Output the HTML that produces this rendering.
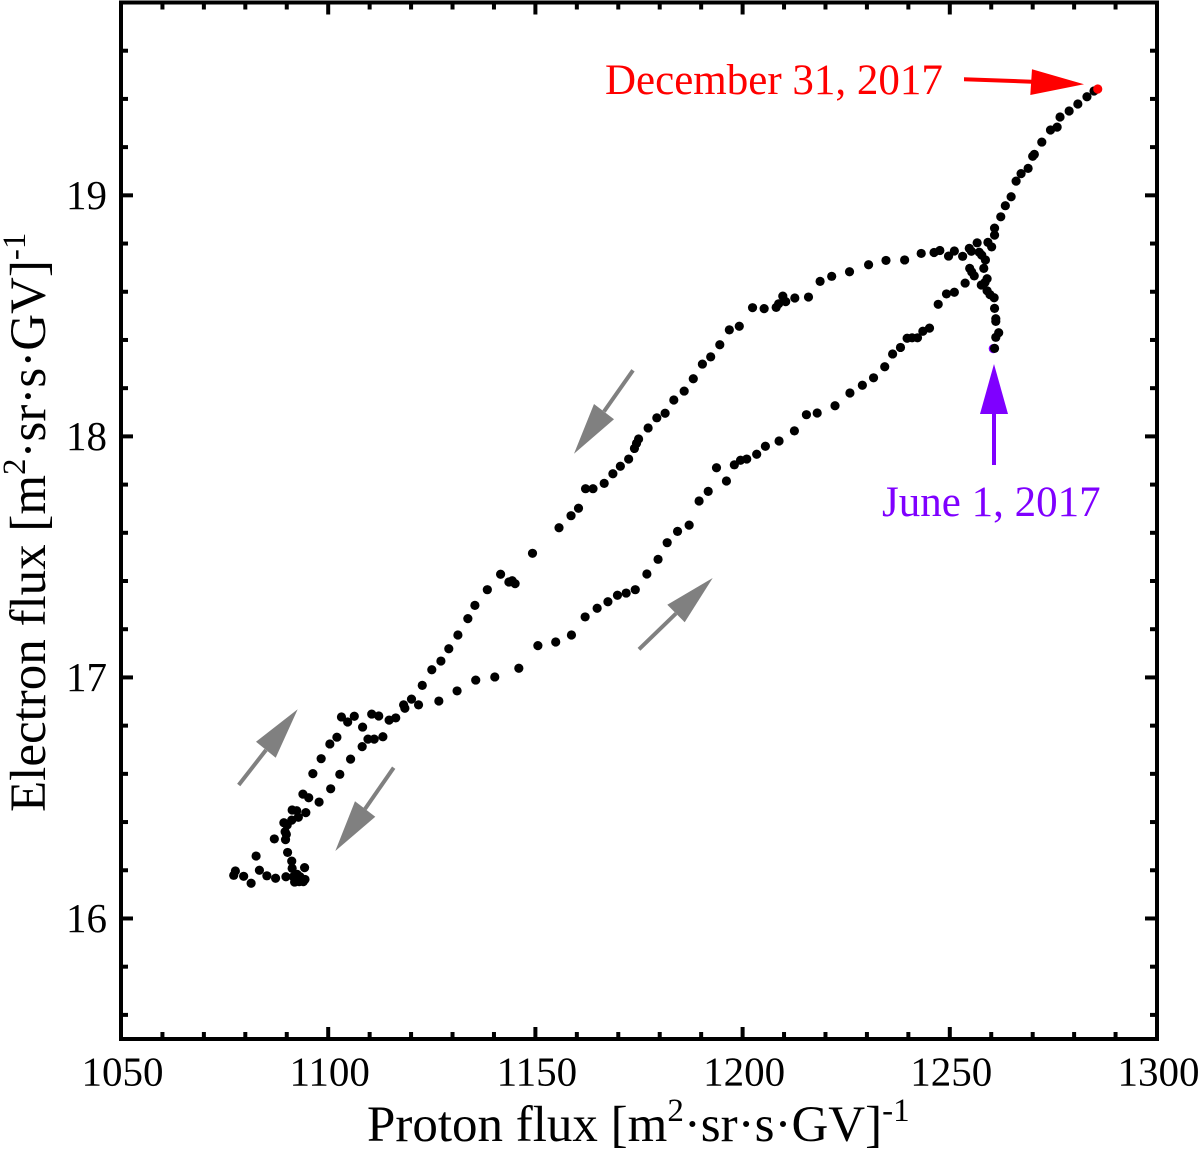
<!DOCTYPE html>
<html lang="en">
<head>
<meta charset="utf-8">
<title>Electron flux vs proton flux</title>
<style>
html,body{margin:0;padding:0;background:#fff;}
svg{display:block;font-family:"Liberation Serif",serif;}
</style>
</head>
<body>
<svg id="chart" xmlns="http://www.w3.org/2000/svg" width="1200" height="1151" viewBox="0 0 1200 1151">
  <rect x="0" y="0" width="1200" height="1151" fill="#fff"/>
  <g id="ticks"></g>
  <g id="tick-labels"></g>
  <g id="points"></g>
  <rect x="121" y="2.5" width="1036" height="1036.5" fill="none" stroke="#000" stroke-width="4"/>

  <text x="367" y="1141" font-size="51" fill="#000">Proton flux [m<tspan dy="-20" font-size="33">2</tspan><tspan dy="20">·sr·s·GV]</tspan><tspan dy="-20" font-size="33">-1</tspan></text>
  <text transform="translate(45,812) rotate(-90)" x="0" y="0" font-size="51" fill="#000">Electron flux [m<tspan dy="-20" font-size="33">2</tspan><tspan dy="20">·sr·s·GV]</tspan><tspan dy="-20" font-size="33">-1</tspan></text>

  <text x="605" y="94" font-size="43" fill="#ff0000">December 31, 2017</text>
  <g fill="#ff0000">
    <polygon points="964,77.3 1032,79.7 1032,83.7 964,81.3"/>
    <polygon points="1032,69.3 1084,84.3 1030.3,95"/>
  </g>
  <text x="882" y="516" font-size="43" fill="#7f00ff">June 1, 2017</text>
  <g fill="#7f00ff">
    <rect x="992" y="410" width="4" height="55"/>
    <polygon points="994,364 1008,414 980,414"/>
  </g>

  <g>
    <line x1="639" y1="649.3" x2="676" y2="613.5" stroke="#808080" stroke-width="4"/>
    <polygon points="712.7,578 667.3,604.7 684.7,622.3" fill="#808080"/>
  </g>
  <g>
    <line x1="633" y1="370.3" x2="604" y2="411.5" stroke="#808080" stroke-width="4"/>
    <polygon points="574,453.7 594,404 614,419.3" fill="#808080"/>
  </g>
  <g>
    <line x1="238.7" y1="785" x2="266" y2="750" stroke="#808080" stroke-width="4"/>
    <polygon points="297.7,709.3 256,741.7 275.7,757.7" fill="#808080"/>
  </g>
  <g>
    <line x1="393.7" y1="767.7" x2="365" y2="809" stroke="#808080" stroke-width="4"/>
    <polygon points="335.3,851 355,801.3 375.3,816.7" fill="#808080"/>
  </g>
</svg>
<script>
const xTickLabels = ["1050", "1100", "1150", "1200", "1250", "1300"];
const yTickLabels = ["16", "17", "18", "19"];
const protonFlux = [
1260.5,1260.8,1261.1,1261.8,1261.1,1261.1,1260.8,1260.7,1259.7,1259.0,
1258.5,1259.0,1257.6,1258.2,1258.6,1257.7,1257.1,1255.2,1254.7,1256.6,
1253.1,1251.1,1249.7,1247.6,1246.2,1243.1,1239.1,1234.6,1230.4,1225.8,
1221.5,1218.7,1215.9,1212.6,1210.4,1209.7,1208.7,1208.1,1205.2,1202.4,
1199.2,1196.8,1194.5,1192.3,1190.3,1188.1,1185.9,1183.4,1181.3,1179.3,
1177.2,1174.9,1174.4,1173.9,1172.5,1170.5,1168.7,1166.6,1163.9,1162.1,
1160.4,1158.6,1155.7,1149.3,1145.1,1144.4,1143.6,1141.6,1138.4,1135.4,
1133.7,1131.3,1129.1,1127.2,1125.0,1122.7,1120.1,1118.5,1118.2,1116.3,
1114.7,1112.2,1110.5,1108.3,1106.3,1104.7,1103.2,1102.1,1100.4,1098.3,
1096.3,1095.3,1093.9,1094.6,1092.8,1092.4,1091.3,1091.2,1090.1,1089.3,
1089.6,1089.9,1089.7,1087.0,1090.2,1091.2,1091.3,1094.3,1094.4,1094.0,
1093.2,1092.5,1093.0,1091.9,1091.6,1089.8,1087.3,1085.2,1083.4,1082.6,
1081.4,1079.6,1077.6,1077.2,
1097.8,1100.6,1102.8,1105.4,1108.2,1109.6,1111.1,1113.2,1121.8,1126.7,
1131.1,1135.6,1140.2,1146.0,1150.6,1154.9,1158.7,1162.0,1164.9,1167.5,
1169.8,1171.9,1174.1,1176.9,1179.6,1181.8,1184.3,1187.1,1189.5,1191.7,
1193.7,1196.1,1198.0,1199.5,1201.0,1203.4,1205.5,1208.8,1212.5,1215.4,
1218.0,1222.3,1225.9,1228.9,1231.6,1234.3,1236.2,1238.1,1239.7,1240.9,
1242.2,1243.5,1245.1,1247.2,1249.2,1251.1,1253.7,1255.9,1255.3,1254.8,
1260.1,1259.2,1260.8,1260.8,1262.3,1263.4,1264.8,1266.0,1267.2,1268.9,
1270.0,1270.4,1272.2,1274.3,1275.9,1276.6,1278.8,1280.9,1283.1,1284.8,1285.7
];
const electronFlux = [
18.364,18.365,18.411,18.430,18.477,18.488,18.531,18.575,18.588,18.604,
18.639,18.654,18.628,18.697,18.732,18.752,18.764,18.768,18.780,18.803,
18.747,18.769,18.748,18.771,18.763,18.759,18.732,18.730,18.712,18.683,
18.664,18.643,18.578,18.574,18.559,18.582,18.550,18.535,18.530,18.534,
18.457,18.442,18.380,18.330,18.300,18.239,18.188,18.151,18.096,18.077,
18.035,17.989,17.971,17.950,17.906,17.876,17.845,17.805,17.783,17.783,
17.702,17.671,17.621,17.515,17.389,17.401,17.396,17.428,17.364,17.299,
17.244,17.176,17.119,17.068,17.032,16.967,16.910,16.872,16.886,16.832,
16.823,16.840,16.848,16.794,16.839,16.815,16.836,16.752,16.724,16.663,
16.601,16.501,16.516,16.439,16.420,16.447,16.450,16.408,16.388,16.397,
16.360,16.349,16.327,16.330,16.274,16.238,16.208,16.211,16.162,16.153,
16.173,16.183,16.153,16.151,16.173,16.173,16.167,16.177,16.200,16.259,
16.146,16.175,16.197,16.179,
16.483,16.538,16.598,16.661,16.713,16.744,16.744,16.754,16.886,16.902,
16.944,16.989,17.002,17.038,17.132,17.147,17.176,17.251,17.287,17.314,
17.341,17.350,17.364,17.429,17.490,17.559,17.606,17.632,17.732,17.772,
17.870,17.815,17.882,17.901,17.906,17.926,17.959,17.981,18.023,18.090,
18.097,18.127,18.180,18.212,18.243,18.289,18.342,18.369,18.407,18.409,
18.409,18.436,18.449,18.548,18.591,18.598,18.636,18.666,18.682,18.697,
18.786,18.805,18.835,18.864,18.911,18.957,18.994,19.059,19.090,19.112,
19.162,19.170,19.221,19.271,19.283,19.325,19.350,19.379,19.409,19.433,19.441
];
const xMinorTicks = [1060,1070,1080,1090,1110,1120,1130,1140,1160,1170,1180,1190,1210,1220,1230,1240,1260,1270,1280,1290];
const yMinorTicks = [15.6,15.8,16.2,16.4,16.6,16.8,17.2,17.4,17.6,17.8,18.2,18.4,18.6,18.8,19.2,19.4,19.6];

const SVG_NS = "http://www.w3.org/2000/svg";
const plot = {left: 121, right: 1157, top: 2.5, bottom: 1039};
const xDomain = [1050, 1300];
const yDomain = [15.5, 19.8];
function xScale(v) { return plot.left + (v - xDomain[0]) / (xDomain[1] - xDomain[0]) * (plot.right - plot.left); }
function yScale(v) { return plot.bottom - (v - yDomain[0]) / (yDomain[1] - yDomain[0]) * (plot.bottom - plot.top); }

const tickLayer = document.getElementById("ticks");
const labelLayer = document.getElementById("tick-labels");
const pointLayer = document.getElementById("points");

function tickLine(x1, y1, x2, y2) {
  const l = document.createElementNS(SVG_NS, "line");
  l.setAttribute("x1", x1);
  l.setAttribute("y1", y1);
  l.setAttribute("x2", x2);
  l.setAttribute("y2", y2);
  l.setAttribute("stroke", "#000");
  l.setAttribute("stroke-width", "4");
  tickLayer.appendChild(l);
  return l;
}
function xTick(v, len) {
  const a = tickLine(xScale(v), plot.bottom, xScale(v), plot.bottom - len);
  
  
  const b = tickLine(xScale(v), plot.top, xScale(v), plot.top + len);
  
  
}
function yTick(v, len) {
  const a = tickLine(plot.left, yScale(v), plot.left + len, yScale(v));
  
  
  const b = tickLine(plot.right, yScale(v), plot.right - len, yScale(v));
  
  
}
xMinorTicks.forEach(function (v) { xTick(v, 7); });
yMinorTicks.forEach(function (v) { yTick(v, 7); });
xTickLabels.forEach(function (s) {
  const v = Number(s);
  xTick(v, 12);
  const t = document.createElementNS(SVG_NS, "text");
  
  
  t.setAttribute("x", xScale(v) + 1.5);
  t.setAttribute("y", 1085.5);
  t.setAttribute("text-anchor", "middle");
  t.setAttribute("font-size", "41");
  t.textContent = s;
  labelLayer.appendChild(t);
});
yTickLabels.forEach(function (s) {
  const v = Number(s);
  yTick(v, 12);
  const t = document.createElementNS(SVG_NS, "text");
  
  
  t.setAttribute("x", 107);
  t.setAttribute("y", yScale(v) + 13.5);
  t.setAttribute("text-anchor", "end");
  t.setAttribute("font-size", "41");
  t.textContent = s;
  labelLayer.appendChild(t);
});

const lastIndex = protonFlux.length - 1;
protonFlux.forEach(function (p, i) {
  const c = document.createElementNS(SVG_NS, "circle");
  
  
  c.setAttribute("cx", xScale(p));
  c.setAttribute("cy", yScale(electronFlux[i]));
  c.setAttribute("r", "4.6");
  c.setAttribute("fill", i === 0 ? "#7f00ff" : i === lastIndex ? "#ff0000" : "#000");
  pointLayer.appendChild(c);
});
</script>
</body>
</html>
